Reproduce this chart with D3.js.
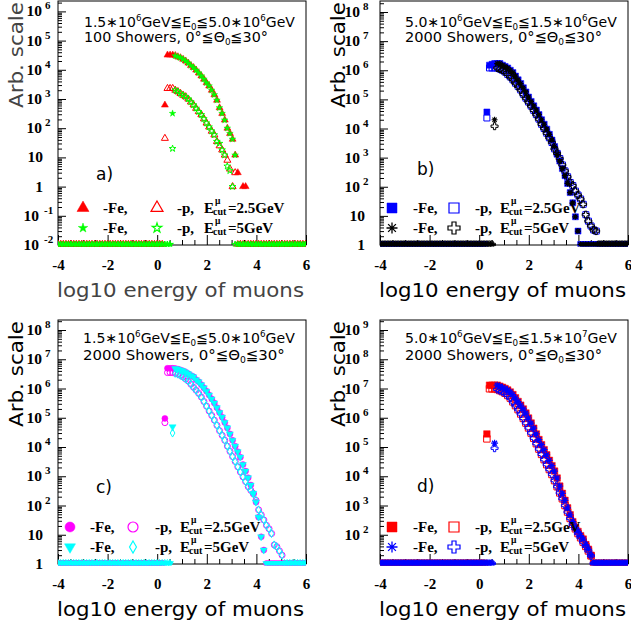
<!DOCTYPE html>
<html><head><meta charset="utf-8">
<script src="https://cdn.jsdelivr.net/npm/d3@7"></script>
<style>body{margin:0;background:#fff}svg{display:block}</style>
</head><body><svg id="chart" width="631" height="631"></svg>
<script>
// ---------------- DATA (counts per log10(E) bin) ----------------
const binStep = 0.105;          // bin width in log10 energy
const xStart25 = 0.31;          // first bin centre, E_cut = 2.5 GeV
const xStart5 = 0.62;           // first bin centre, E_cut = 5 GeV
const xMajorTicks = [-4, -2, 0, 2, 4, 6];

// a) 1.5e6-5e6 GeV, 100 showers
const aFe25 = [620, 3.2e4, 3.2e4, 3.2e4, 3.1e4, 2.8e4, 2.6e4, 2.3e4, 2.0e4, 1.7e4, 1.4e4, 1.2e4, 9800, 7800, 6200, 4800, 3600, 2800, 2000, 1400, 910, 500, 320, 190, 100, 66, 42, 12, 3, 0, 1, 1];
const aP25 = [45, 2300, 2300, 2300, 2000, 1800, 1550, 1350, 1200, 1000, 790, 630, 480, 370, 290, 210, 150, 110, 79, 59, 35, 25, 18, 12, 8, 4, 1, 3];
const aFe5 = [320, 3.0e4, 2.8e4, 2.6e4, 2.3e4, 2.0e4, 1.7e4, 1.4e4, 1.2e4, 9800, 7800, 6200, 4800, 3600, 2800, 2000, 1400, 910, 500, 320, 190, 100, 66, 42, 12];
const aP5 = [20, 2000, 1800, 1550, 1350, 1200, 1000, 800, 630, 480, 370, 290, 210, 150, 110, 80, 59, 35, 30, 18, 12, 5, 3.5, 1];

// b) 5e6-1.5e6 GeV, 2000 showers
const bFe25 = [3.7e4, 1.5e6, 1.6e6, 1.7e6, 1.7e6, 1.7e6, 1.5e6, 1.35e6, 1.2e6, 1.0e6, 8.3e5, 6.3e5, 4.7e5, 3.5e5, 2.5e5, 1.8e5, 1.2e5, 8.5e4, 6.0e4, 4.3e4, 3.0e4, 2.0e4, 1.4e4, 9500, 6300, 4000, 2400, 1300, 760, 420, 240, 130, 63, 28, 9.3, 3];
const bP25 = [2.3e4, 1.2e6, 1.2e6, 1.2e6, 1.2e6, 1.1e6, 1.0e6, 8.7e5, 7.2e5, 5.9e5, 4.7e5, 3.6e5, 2.8e5, 2.1e5, 1.5e5, 1.1e5, 8.1e4, 5.9e4, 4.2e4, 3.0e4, 2.1e4, 1.4e4, 1.0e4, 6900, 4800, 3300, 2000, 1400, 930, 560, 350, 220, 140, 110, 71, 52, 38, 25, 11, 6.6, 4.5, 3.3, 3];
const bFe5 = [2.0e4, 1.7e6, 1.7e6, 1.5e6, 1.35e6, 1.2e6, 1.0e6, 8.3e5, 6.3e5, 4.7e5, 3.5e5, 2.5e5, 1.8e5, 1.2e5, 8.5e4, 6.0e4, 4.3e4, 3.0e4, 2.0e4, 1.4e4, 9500, 6300, 4000, 2400, 1300, 760, 420, 240, 130, 63, 28, 9.3, 3];
const bP5 = [1.2e4, 1.2e6, 1.1e6, 1.0e6, 8.7e5, 7.2e5, 5.9e5, 4.7e5, 3.6e5, 2.8e5, 2.1e5, 1.5e5, 1.1e5, 8.1e4, 5.9e4, 4.2e4, 3.0e4, 2.1e4, 1.4e4, 1.0e4, 6900, 4800, 3300, 2000, 1400, 930, 560, 350, 220, 140, 110, 71, 52, 38, 25, 11, 6.6, 4.5, 3.3, 3];

// c) 1.5e6-5e6 GeV, 2000 showers
const cFe25 = [9.5e4, 4.9e6, 4.9e6, 4.9e6, 4.8e6, 4.6e6, 4.3e6, 4.0e6, 3.6e6, 3.2e6, 2.8e6, 2.5e6, 2.0e6, 1.7e6, 1.35e6, 1.05e6, 8.1e5, 6.0e5, 4.4e5, 3.2e5, 2.2e5, 1.5e5, 1.05e5, 6.9e4, 4.5e4, 2.8e4, 1.7e4, 1.07e4, 6900, 4500, 2500, 1500, 890, 500, 260, 130, 40, 8.5, 3];
const cP25 = [6.8e4, 3.5e6, 3.5e6, 3.5e6, 3.3e6, 3.1e6, 2.8e6, 2.5e6, 2.1e6, 1.8e6, 1.4e6, 1.1e6, 8.7e5, 6.8e5, 5.1e5, 3.6e5, 2.5e5, 1.7e5, 1.2e5, 8.3e4, 5.5e4, 3.6e4, 2.5e4, 1.7e4, 1.07e4, 7100, 4700, 3200, 2100, 1400, 950, 660, 440, 330, 250, 150, 71, 48, 32, 21, 16, 11, 4.5, 3.9, 2.8, 2];
const cFe5 = [4.9e4, 4.8e6, 4.6e6, 4.3e6, 4.0e6, 3.6e6, 3.2e6, 2.8e6, 2.5e6, 2.0e6, 1.7e6, 1.35e6, 1.05e6, 8.1e5, 6.0e5, 4.4e5, 3.2e5, 2.2e5, 1.5e5, 1.05e5, 6.9e4, 4.5e4, 2.8e4, 1.7e4, 1.07e4, 6900, 4500, 2500, 1500, 890, 500, 260, 130, 40, 8.5, 3];
const cP5 = [3.0e4, 3.3e6, 3.1e6, 2.8e6, 2.5e6, 2.1e6, 1.8e6, 1.4e6, 1.1e6, 8.7e5, 6.8e5, 5.1e5, 3.6e5, 2.5e5, 1.7e5, 1.2e5, 8.3e4, 5.5e4, 3.6e4, 2.5e4, 1.7e4, 1.07e4, 7100, 4700, 3200, 2100, 1400, 950, 660, 440, 330, 250, 150, 71, 48, 32, 21, 16, 11, 4.5, 3.9, 2.8, 2];

// d) 5e6-1.5e7 GeV, 2000 showers
const dFe25 = [2.8e5, 1.3e7, 1.3e7, 1.3e7, 1.3e7, 1.2e7, 1.1e7, 1.0e7, 8.9e6, 7.6e6, 6.2e6, 4.8e6, 3.6e6, 2.7e6, 2.0e6, 1.45e6, 9.8e5, 6.6e5, 4.4e5, 2.8e5, 1.8e5, 1.2e5, 8.1e4, 5.4e4, 3.5e4, 2.3e4, 1.5e4, 8700, 4600, 2600, 1500, 830, 480, 280, 180, 130, 93, 71, 46, 32, 20];
const dP25 = [1.9e5, 9.8e6, 9.8e6, 9.8e6, 9.3e6, 8.5e6, 7.8e6, 6.9e6, 5.8e6, 4.7e6, 3.5e6, 2.6e6, 1.9e6, 1.35e6, 9.5e5, 6.6e5, 4.5e5, 3.0e5, 2.0e5, 1.3e5, 8.5e4, 5.6e4, 3.7e4, 2.5e4, 1.7e4, 1.15e4, 7100, 4400, 2700, 1700, 1000, 600, 360, 230, 160, 110, 79, 56, 40, 28, 19];
const dFe5 = [1.35e5, 1.3e7, 1.2e7, 1.1e7, 1.0e7, 8.9e6, 7.6e6, 6.2e6, 4.8e6, 3.6e6, 2.7e6, 2.0e6, 1.45e6, 9.8e5, 6.6e5, 4.4e5, 2.8e5, 1.8e5, 1.2e5, 8.1e4, 5.4e4, 3.5e4, 2.3e4, 1.5e4, 8700, 4600, 2600, 1500, 830, 480, 280, 180, 130, 93, 71, 46, 32, 20];
const dP5 = [9.1e4, 9.3e6, 8.5e6, 7.8e6, 6.9e6, 5.8e6, 4.7e6, 3.5e6, 2.6e6, 1.9e6, 1.35e6, 9.5e5, 6.6e5, 4.5e5, 3.0e5, 2.0e5, 1.3e5, 8.5e4, 5.6e4, 3.7e4, 2.5e4, 1.7e4, 1.15e4, 7100, 4400, 2700, 1700, 1000, 600, 360, 230, 160, 110, 79, 56, 40, 28, 19];

// annotation text
const energyA = ["1.5∗10", "6", "GeV≦E", "0", "≦5.0∗10", "6", "GeV"];
const energyB = ["5.0∗10", "6", "GeV≦E", "0", "≦1.5∗10", "6", "GeV"];
const energyC = ["1.5∗10", "6", "GeV≦E", "0", "≦5.0∗10", "6", "GeV"];
const energyD = ["5.0∗10", "6", "GeV≦E", "0", "≦1.5∗10", "7", "GeV"];
const showersA = "100 Showers, 0°≦Θ";
const showersBCD = "2000 Showers, 0°≦Θ";

// ---------------- DRAWING ----------------
const svg = d3.select("#chart");
svg.append("rect").attr("width", 631).attr("height", 631).attr("fill", "#fff");

const asterisk = {
  draw(ctx, size) {
    const r = Math.sqrt(size) / 2, q = r * 0.7071;
    ctx.moveTo(-r, 0); ctx.lineTo(r, 0);
    ctx.moveTo(0, -r); ctx.lineTo(0, r);
    ctx.moveTo(-q, -q); ctx.lineTo(q, q);
    ctx.moveTo(-q, q); ctx.lineTo(q, -q);
  }
};
const shapes = {
  triUp:   {type: d3.symbolTriangle, k: 0.433, rot: 0},
  triDown: {type: d3.symbolTriangle, k: 0.433, rot: 180},
  star:    {type: d3.symbolStar, k: 0.28, rot: 0},
  square:  {type: d3.symbolSquare, k: 1, rot: 0},
  circle:  {type: d3.symbolCircle, k: Math.PI / 4, rot: 0},
  diamond: {type: d3.symbolDiamond, k: 0.289, rot: 0},
  cross:   {type: d3.symbolCross, k: 0.556, rot: 0},
  aster:   {type: asterisk, k: 1, rot: 0, lines: true}
};
function marker(g, sh, w, color, filled, cx, cy, sw) {
  const s = shapes[sh];
  const p = g.append("path")
    .attr("d", d3.symbol().type(s.type).size(s.k * w * w)())
    .attr("transform", `translate(${cx},${cy})` + (s.rot ? ` rotate(${s.rot})` : ""));
  if (s.lines) p.attr("fill", "none").attr("stroke", color).attr("stroke-width", sw || 1.2);
  else if (filled) p.attr("fill", color).attr("stroke", color).attr("stroke-width", 0.5);
  else p.attr("fill", "none").attr("stroke", color).attr("stroke-width", sw || 1);
  return p;
}

const serif = "'Liberation Serif','Times New Roman',serif";
const sans = "'DejaVu Sans','Liberation Sans',sans-serif";

// Two-line annotation in ONE text element; each line rescaled to its target width.
function annotation(g, x, ys, lines, size, lens) {
  const segTspans = (t, segs, sz, lineY) => {
    let off = 0;
    segs.forEach((s, i) => {
      const target = s.m === "sup" ? -sz * 0.42 : s.m === "sub" ? sz * 0.2 : 0;
      const ts = t.append("tspan").attr("font-size", s.m === "n" ? sz : sz * 0.62).text(s.t);
      if (i === 0) ts.attr("x", x).attr("y", lineY + target);
      else ts.attr("dy", target - off);
      off = target;
    });
  };
  const sizes = lines.map((segs, li) => {
    const tmp = g.append("text").attr("font-family", sans);
    segTspans(tmp, segs, size, 0);
    const w = tmp.node().getComputedTextLength();
    tmp.remove();
    return w > 0 ? size * lens[li] / w : size;
  });
  const t = g.append("text").attr("font-family", sans).attr("fill", "#000");
  lines.forEach((segs, li) => segTspans(t, segs, sizes[li], ys[li]));
  return t;
}

const panels = [
  {L: 58, R: 306, T: 1, B: 245, ymin: 1e-2, ymax: Math.pow(10, 6.356), exps: [-2, -1, 0, 1, 2, 3, 4, 5, 6],
   tenOff: -16, expOff: -13, titleColor: "#444", letter: "a)", letterPos: [96, 180],
   energy: energyA, showers: showersA, annX: 84, annY: [27, 42], annLen: [211, 184],
   leg: {x: [83, 103, 157, 177, 204], y: [208, 228], w: [12, 10]},
   series: [
     {v: aFe25, x0: xStart25, c: "#ff0000", sh: "triUp", f: true, w: 7},
     {v: aP25, x0: xStart25, c: "#ff0000", sh: "triUp", f: false, w: 7},
     {v: aFe5, x0: xStart5, c: "#00ff00", sh: "star", f: true, w: 7},
     {v: aP5, x0: xStart5, c: "#00ff00", sh: "star", f: false, w: 7}]},
  {L: 380, R: 628, T: 1, B: 245, ymin: 1, ymax: Math.pow(10, 8.378), exps: [0, 1, 2, 3, 4, 5, 6, 7, 8],
   tenOff: -20, expOff: -17, titleColor: "#000", letter: "b)", letterPos: [417, 175],
   energy: energyB, showers: showersBCD, annX: 405, annY: [27, 42], annLen: [212, 197],
   leg: {x: [392, 413, 454, 475, 500], y: [208, 228], w: [10, 11]},
   series: [
     {v: bFe25, x0: xStart25, c: "#0000ff", sh: "square", f: true, w: 6},
     {v: bP25, x0: xStart25, c: "#0000ff", sh: "square", f: false, w: 6},
     {v: bFe5, x0: xStart5, c: "#000000", sh: "aster", f: true, w: 6},
     {v: bP5, x0: xStart5, c: "#000000", sh: "cross", f: false, w: 7}]},
  {L: 58, R: 306, T: 320, B: 564, ymin: 1, ymax: Math.pow(10, 8.342), exps: [0, 1, 2, 3, 4, 5, 6, 7, 8],
   tenOff: -16, expOff: -13, titleColor: "#000", letter: "c)", letterPos: [96, 493],
   energy: energyC, showers: showersBCD, annX: 83, annY: [343, 360], annLen: [212, 202],
   leg: {x: [70, 90, 133, 155, 180], y: [527, 547], w: [10, 11]},
   series: [
     {v: cFe25, x0: xStart25, c: "#ff00ff", sh: "circle", f: true, w: 6},
     {v: cP25, x0: xStart25, c: "#ff00ff", sh: "circle", f: false, w: 6},
     {v: cFe5, x0: xStart5, c: "#00ffff", sh: "triDown", f: true, w: 7},
     {v: cP5, x0: xStart5, c: "#00ffff", sh: "diamond", f: false, w: 8}]},
  {L: 380, R: 628, T: 320, B: 564, ymin: 10, ymax: Math.pow(10, 9.342), exps: [2, 3, 4, 5, 6, 7, 8, 9],
   tenOff: -20, expOff: -17, titleColor: "#000", letter: "d)", letterPos: [417, 492],
   energy: energyD, showers: showersBCD, annX: 405, annY: [343, 360], annLen: [212, 197],
   leg: {x: [392, 413, 454, 475, 500], y: [527, 547], w: [10, 11]},
   series: [
     {v: dFe25, x0: xStart25, c: "#ff0000", sh: "square", f: true, w: 6.5},
     {v: dP25, x0: xStart25, c: "#ff0000", sh: "square", f: false, w: 6.5},
     {v: dFe5, x0: xStart5, c: "#0000ff", sh: "aster", f: true, w: 7},
     {v: dP5, x0: xStart5, c: "#0000ff", sh: "cross", f: false, w: 7}]}
];

panels.forEach((P, pi) => {
  const g = svg.append("g");
  const x = d3.scaleLinear().domain([-4, 6]).range([P.L, P.R]);
  const y = d3.scaleLog().domain([P.ymin, P.ymax]).range([P.B, P.T]);

  // axes (ticks inside the frame)
  const xMinor = d3.range(-4, 6.01, 0.5).filter(v => !xMajorTicks.includes(v));
  g.append("g").attr("transform", `translate(0,${P.B})`)
    .call(d3.axisBottom(x).tickValues(xMinor).tickSize(-5).tickFormat(""))
    .call(a => a.select(".domain").remove());
  g.append("g").attr("transform", `translate(0,${P.B})`)
    .call(d3.axisBottom(x).tickValues(xMajorTicks).tickSize(-10).tickPadding(14).tickFormat(d => d))
    .call(a => a.select(".domain").remove())
    .call(a => a.selectAll("text").attr("font-family", serif).attr("font-weight", "bold")
      .attr("font-size", 15).attr("fill", "#000").attr("dy", "0.71em"))
    .call(a => a.selectAll("line").attr("stroke", "#000"));

  const lo = Math.floor(Math.log10(P.ymin)), hi = Math.ceil(Math.log10(P.ymax));
  const yMajor = d3.range(lo, hi + 1).map(e => Math.pow(10, e)).filter(v => v >= P.ymin && v <= P.ymax);
  const yMinor = [];
  for (let e = lo; e <= hi; e++) for (let k = 2; k <= 9; k++) {
    const v = k * Math.pow(10, e);
    if (v > P.ymin && v < P.ymax) yMinor.push(v);
  }
  g.append("g").attr("transform", `translate(${P.L},0)`)
    .call(d3.axisLeft(y).tickValues(yMinor).tickSize(-4).tickFormat(""))
    .call(a => a.select(".domain").remove());
  g.append("g").attr("transform", `translate(${P.L},0)`)
    .call(d3.axisLeft(y).tickValues(yMajor).tickSize(-8).tickFormat(""))
    .call(a => a.select(".domain").remove());

  // y labels as 10^n
  P.exps.forEach(e => {
    const yy = y(Math.pow(10, e));
    if (e === 0 || e === 1) {
      g.append("text").attr("x", P.L - 15).attr("y", yy + 5).attr("text-anchor", "end")
        .attr("font-family", serif).attr("font-weight", "bold").attr("font-size", 15.5)
        .text(e === 0 ? "1" : "10");
    } else {
      g.append("text").attr("x", P.L + P.tenOff - (e < 0 ? 3 : 0)).attr("y", yy + 5).attr("text-anchor", "end")
        .attr("font-family", serif).attr("font-weight", "bold").attr("font-size", 15.5).text("10");
      g.append("text").attr("x", P.L + P.expOff - (e < 0 ? 1 : 0)).attr("y", yy - 2)
        .attr("font-family", serif).attr("font-weight", "bold").attr("font-size", 11).text(e);
    }
  });

  // frame
  g.append("rect").attr("x", P.L).attr("y", P.T).attr("width", P.R - P.L).attr("height", P.B - P.T)
    .attr("fill", "none").attr("stroke", "#000").attr("stroke-width", 1);

  // data
  const clipId = "clip" + pi;
  svg.append("clipPath").attr("id", clipId).append("rect")
    .attr("x", P.L).attr("y", P.T).attr("width", P.R - P.L).attr("height", P.B - P.T + 1.5);
  const dg = g.append("g").attr("clip-path", `url(#${clipId})`);
  P.series.forEach(S => {
    const kMin = Math.ceil((-4 - S.x0) / binStep), kMax = Math.floor((6 - S.x0) / binStep);
    for (let k = kMin; k <= kMax; k++) {
      const xv = S.x0 + k * binStep;
      const v = (k >= 0 && k < S.v.length) ? S.v[k] : 0;
      const yy = v >= P.ymin ? y(v) : P.B - 0.5;
      marker(dg, S.sh, S.w, S.c, S.f, x(xv), yy);
    }
  });

  // legend
  const Lg = g.append("g");
  const cuts = ["=2.5GeV", "=5GeV"];
  [0, 1].forEach(r => {
    const Fe = P.series[r * 2], Pp = P.series[r * 2 + 1];
    const ry = P.leg.y[r];
    const wl = P.leg.w[r];
    marker(Lg, Fe.sh, Fe.sh === "aster" ? 11 : wl, Fe.c, true, P.leg.x[0], ry, 1.3);
    marker(Lg, Pp.sh, Pp.sh === "cross" ? 12 : (Pp.sh === "diamond" ? 12 : wl), Pp.c, false, P.leg.x[2], ry, 1.2);
    const tx = (xx, s) => Lg.append("text").attr("x", xx).attr("y", ry + 5)
      .attr("font-family", serif).attr("font-weight", "bold").attr("font-size", 15).text(s);
    tx(P.leg.x[1], "-Fe,");
    tx(P.leg.x[3], "-p,");
    const t = Lg.append("text").attr("font-family", serif).attr("font-weight", "bold");
    t.append("tspan").attr("x", P.leg.x[4]).attr("y", ry + 5).attr("font-size", 15).text("E");
    t.append("tspan").attr("x", P.leg.x[4] + 11).attr("y", ry - 4).attr("font-size", 9.5).text("μ");
    t.append("tspan").attr("x", P.leg.x[4] + 9).attr("y", ry + 7).attr("font-size", 10).text("cut");
    t.append("tspan").attr("x", P.leg.x[4] + 24).attr("y", ry + 5).attr("font-size", 15).text(cuts[r]);
  });

  // annotations
  const e = P.energy;
  annotation(g, P.annX, P.annY, [
    [{t: e[0], m: "n"}, {t: e[1], m: "sup"}, {t: e[2], m: "n"}, {t: e[3], m: "sub"},
     {t: e[4], m: "n"}, {t: e[5], m: "sup"}, {t: e[6], m: "n"}],
    [{t: P.showers, m: "n"}, {t: "0", m: "sub"}, {t: "≦30°", m: "n"}]], 16, P.annLen);

  g.append("text").attr("x", P.letterPos[0]).attr("y", P.letterPos[1])
    .attr("font-family", sans).attr("font-size", 17).text(P.letter);

  // axis titles
  g.append("text").attr("x", P.L - 1).attr("y", P.B + 52)
    .attr("font-family", sans).attr("font-size", 20).attr("fill", P.titleColor)
    .attr("textLength", 247).attr("lengthAdjust", "spacingAndGlyphs")
    .text("log10 energy of muons");
  g.append("text").attr("transform", `translate(${P.L - 35},${P.T + 1}) rotate(-90)`)
    .attr("text-anchor", "end")
    .attr("font-family", sans).attr("font-size", 20).attr("fill", P.titleColor)
    .attr("textLength", 106).attr("lengthAdjust", "spacingAndGlyphs")
    .text("Arb. scale");
});
</script>
</body></html>
